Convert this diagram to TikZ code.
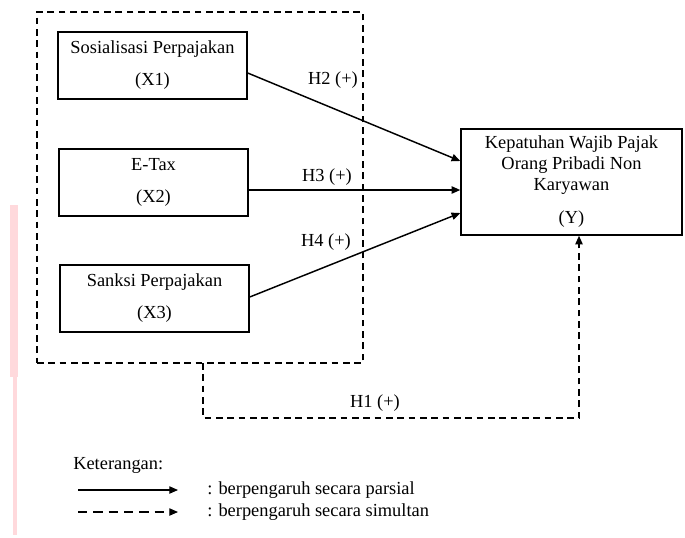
\documentclass[tikz,border=0pt]{standalone}
\usepackage{fontspec}
\setmainfont{Liberation Serif}
\usepackage{tikz}
\usetikzlibrary{arrows.meta, positioning, calc}
\definecolor{scanpink}{HTML}{FFD9DC}

\begin{document}
\begin{tikzpicture}[
  x=0.75pt, y=-0.75pt,
  varbox/.style={rectangle, draw, line width=1.1pt, minimum width=141.75pt,
                minimum height=50.25pt, align=center, inner sep=0pt,
                font=\fontsize{13.8pt}{15.75pt}\selectfont},
  ybox/.style={rectangle, draw, line width=1.1pt, minimum width=165.75pt,
                minimum height=79.5pt, align=center, inner sep=0pt,
                font=\fontsize{13.8pt}{15.75pt}\selectfont},
  groupbox/.style={rectangle, draw, line width=1.1pt, dash pattern=on 5pt off 3.5pt,
                minimum width=244.5pt, minimum height=263.25pt, inner sep=0pt},
  hyp/.style={font=\fontsize{13.8pt}{15pt}\selectfont, inner sep=1pt},
  legend/.style={font=\fontsize{13.8pt}{15pt}\selectfont, inner sep=0pt},
  partial/.style={-{Triangle[length=6.5pt, width=5.5pt]}, line width=1.1pt},
  simul/.style={-{Triangle[length=6.5pt, width=5.5pt]}, line width=1.1pt,
                dash pattern=on 5pt off 3.5pt}
]
\useasboundingbox (0,0) rectangle (685,537);

% === Scan mark on the left edge ===
\fill[scanpink] (10,205) rectangle (18,377);
\fill[scanpink] (13,377) rectangle (17,535);

% === Independent variables ===
\node[groupbox] (grp) at (200,187.5) {};

\node[varbox] (x1) at (152.5, 65.5) {Sosialisasi Perpajakan\\[8.25pt](X1)};
\node[varbox] (x2) at (153.5,182.5) {E-Tax\\[8.25pt](X2)};
\node[varbox] (x3) at (154.5,298.5) {Sanksi Perpajakan\\[8.25pt](X3)};

% === Dependent variable ===
\node[ybox] (y) at (571.5,182) {Kepatuhan Wajib Pajak\\Orang Pribadi Non\\Karyawan\\[9pt](Y)};

% === Partial effects ===
\draw[partial] (x1.east |- 0,73)  -- (y.west |- 0,161);
\draw[partial] (x2.east |- 0,190) -- (y.west |- 0,190);
\draw[partial] (x3.east |- 0,297) -- (y.west |- 0,213);

\node[hyp] (h2) at (333, 80)  {H2 (+)};
\node[hyp] (h3) at (327,177)  {H3 (+)};
\node[hyp] (h4) at (326,242)  {H4 (+)};

% === Simultaneous effect ===
\coordinate (h1start) at (203,363);
\coordinate (h1turn) at (579,418);
\draw[simul] (h1start) |- (h1turn) -- (h1turn |- y.south);
\node[hyp] (h1) at (375,403) {H1 (+)};

% === Legend ===
\node[legend, anchor=west] (ket) at (73,465) {Keterangan:};
\coordinate (lga) at (78,490);
\coordinate (lgb) at (178,490);
\coordinate (lgc) at (78,512);
\coordinate (lgd) at (178,512);
\draw[partial, line width=0.8pt] (lga) -- (lgb);
\draw[simul, line width=0.8pt, dash pattern=on 7pt off 4.5pt] (lgc) -- (lgd);
\node[legend, anchor=west] (lgp) at (207,490) {: berpengaruh secara parsial};
\node[legend, anchor=west] (lgs) at (207,512) {: berpengaruh secara simultan};

\end{tikzpicture}
\end{document}
